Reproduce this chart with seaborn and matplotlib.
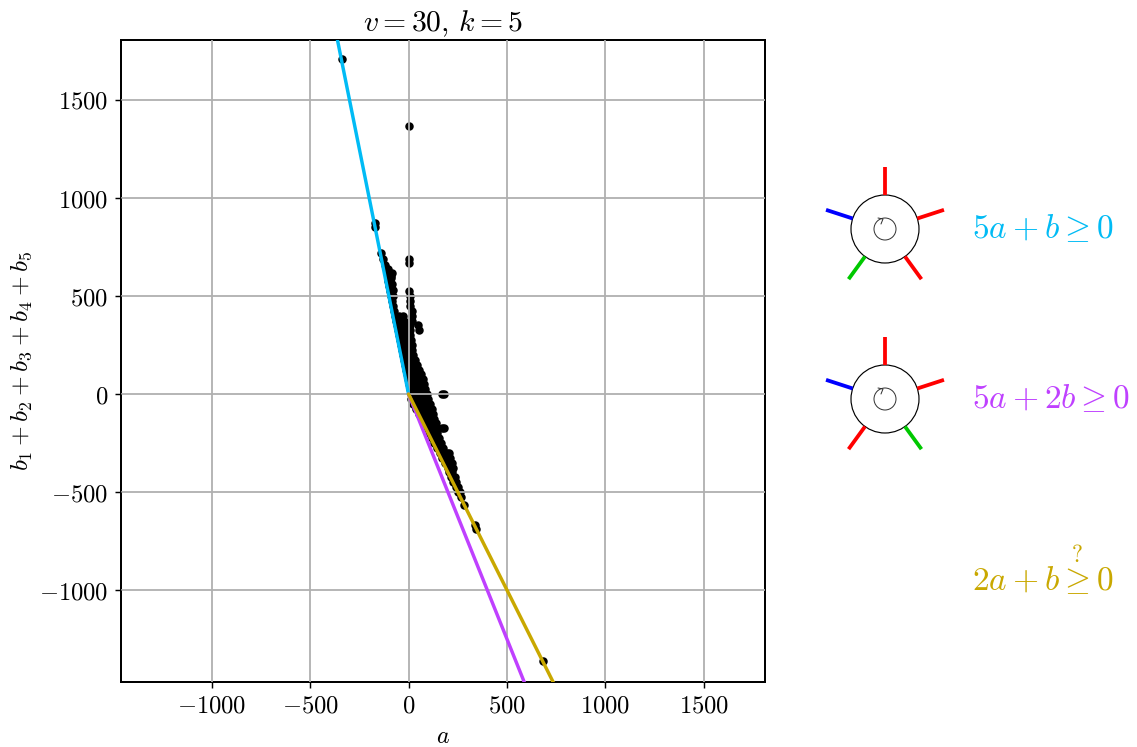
import matplotlib
matplotlib.use("Agg")
import matplotlib.pyplot as plt
from matplotlib.patches import Circle
import numpy as np
import pandas as pd
import seaborn as sns

sns.set_theme(style="white")
plt.rcParams.update({
    "mathtext.fontset": "cm",
    "font.family": ["DejaVu Serif"],
    "axes.edgecolor": "black",
    "axes.linewidth": 1.1,
})

# (a, b1+...+b5) samples
a_vals = [
    -338, 2, -170, -172, -140, -128, -120, -112, -106, -88, -85, -102, -97, -92, 3, -88, 5,
    -82, 8, -78, 8, -72, 15, -68, -48, -30, 20, -65, -45, -25, 15,
    -60, -40, -20, 8, 46, -55, -35, -15, 5, 54, -50, -30, -10, 5,
    -45, -25, -5, 12, -38, -15, 5, 18, -33, -10, 10, 20, -28, -5, 15, 25,
    -22, 0, 20, 33, -18, 5, 25, 42, -12, 10, 30, 52, -8, 15, 40, 63,
    -3, 20, 45, 72, 0, 25, 50, 80, 5, 30, 55, 85,
    12, 30, 55, 80, 96, 170, 180, 0, 2,
    14, 30, 55, 80, 100, 24, 40, 65, 90, 108, 38, 55, 80, 105, 118,
    55, 65, 90, 112, 125, 68, 80, 105, 130, 82, 95, 120, 138,
    92, 105, 130, 145, 170, 178, 105, 120, 145, 118, 130, 155,
    130, 145, 165, 143, 155, 175, 158, 170, 195, 205, 172, 185, 210,
    185, 195, 220, 198, 215, 225, 205, 222, 218, 235, 228, 240,
    240, 250, 252, 262, 265, 283, 338, 345, 683,
    -80, -78, -85, -90, -105,
]
b_vals = [
    1710, 1367, 850, 875, 717, 690, 660, 640, 600, 600, 615, 575, 550, 525, 525, 500, 500,
    475, 475, 450, 450, 425, 425, 400, 400, 400, 400, 375, 375, 375, 375,
    350, 350, 350, 350, 350, 325, 325, 325, 325, 325, 300, 300, 300, 300,
    275, 275, 275, 275, 250, 250, 250, 250, 225, 225, 225, 225, 200, 200, 200, 200,
    175, 175, 175, 175, 150, 150, 150, 150, 125, 125, 125, 125, 100, 100, 100, 100,
    75, 75, 75, 75, 50, 50, 50, 50, 25, 25, 25, 25,
    0, 0, 0, 0, 0, 0, 0, 670, 690,
    -25, -25, -25, -25, -25, -50, -50, -50, -50, -50, -75, -75, -75, -75, -75,
    -100, -100, -100, -100, -100, -125, -125, -125, -125, -150, -150, -150, -150,
    -175, -175, -175, -175, -175, -175, -200, -200, -200, -225, -225, -225,
    -250, -250, -250, -275, -275, -275, -300, -300, -300, -300, -325, -325, -325,
    -350, -350, -350, -375, -375, -375, -400, -400, -425, -425, -450, -450,
    -475, -475, -500, -500, -525, -566, -670, -690, -1362,
    500, 530, 560, 590, 640,
]

# Each boundary a*a_coef + b*b_coef >= 0
line_names = ["5a+b", "5a+2b", "2a+b"]
line_a_coef = [5, 5, 2]
line_b_coef = [1, 2, 1]
line_colors = ["#00bbf5", "#bf40ff", "#c9a800"]
line_b_end = [1900, -1600, -1600]

tick_vals = [-1000, -500, 0, 500, 1000, 1500]
tick_labels = [r"$-1000$", r"$-500$", r"$0$", r"$500$", r"$1000$", r"$1500$"]

W, H, DPI = 1137, 747, 130
fig = plt.figure(figsize=(W / DPI, H / DPI), dpi=DPI)
ax = fig.add_axes([121 / W, 1 - 682 / H, 644 / W, 642 / H])

df = pd.DataFrame({"a": a_vals, "b": b_vals})
sns.scatterplot(data=df, x="a", y="b", color="black", s=22, linewidth=0, ax=ax, zorder=1)

for name, ca, cb, col, end in zip(line_names, line_a_coef, line_b_coef, line_colors, line_b_end):
    lf = pd.DataFrame({"a": [0, -cb * end / ca], "b": [0, end]})
    sns.lineplot(data=lf, x="a", y="b", color=col, lw=1.9, ax=ax, zorder=3, sort=False,
                 estimator=None, label=None)

ax.set_xlim(-1461, 1811)
ax.set_ylim(-1469, 1806)
ax.set_xticks(tick_vals, tick_labels)
ax.set_yticks(tick_vals, tick_labels)
ax.tick_params(bottom=True, left=True, length=3.5, width=0.8, labelsize=13.6, colors="black", pad=3.5)
ax.grid(True, color="#b0b0b0", lw=1.0)
ax.set_axisbelow(False)
ax.set_xlabel(r"$a$", fontsize=13.3, color="black", labelpad=4)
ax.set_ylabel(r"$b_1+b_2+b_3+b_4+b_5$", fontsize=14, color="black", labelpad=3)
ax.set_title(r"$v=30,\,k=5$", fontsize=16.5, color="black", pad=5)
for s in ax.spines.values():
    s.set_visible(True)

# Right-hand annotations, in figure pixels
ov = fig.add_axes([0, 0, 1, 1])
ov.set_xlim(0, W)
ov.set_ylim(H, 0)
ov.axis("off")
ov.patch.set_alpha(0)

RED, GREEN, BLUE = "#ff0000", "#00c800", "#0000ff"
spoke_angles = [90, 18, -54, -126, 162]
diagrams = [
    (885, 229, [RED, RED, RED, GREEN, BLUE]),
    (885, 399, [RED, RED, GREEN, RED, BLUE]),
]
for cx, cy, cols in diagrams:
    ov.add_patch(Circle((cx, cy), 34, fill=False, ec="black", lw=0.65))
    for ang, col in zip(spoke_angles, cols):
        t = np.deg2rad(ang)
        ov.plot([cx + 34 * np.cos(t), cx + 62 * np.cos(t)],
                [cy - 34 * np.sin(t), cy - 62 * np.sin(t)],
                color=col, lw=2.1, solid_capstyle="butt")
    ov.add_patch(Circle((cx, cy), 11, fill=False, ec="#333333", lw=0.55))
    ov.plot([cx - 7, cx - 2, cx - 4], [cy - 11, cy - 10, cy - 5], color="#333333", lw=0.55)

labels = [r"$5a+b\geq 0$", r"$5a+2b\geq 0$", r"$2a+b\overset{?}{\geq} 0$"]
label_y = [238, 408, 591]
for txt, y, col in zip(labels, label_y, line_colors):
    ov.text(972, y, txt, color=col, fontsize=18.5, ha="left", va="baseline")

fig.savefig("out.png", dpi=DPI)
